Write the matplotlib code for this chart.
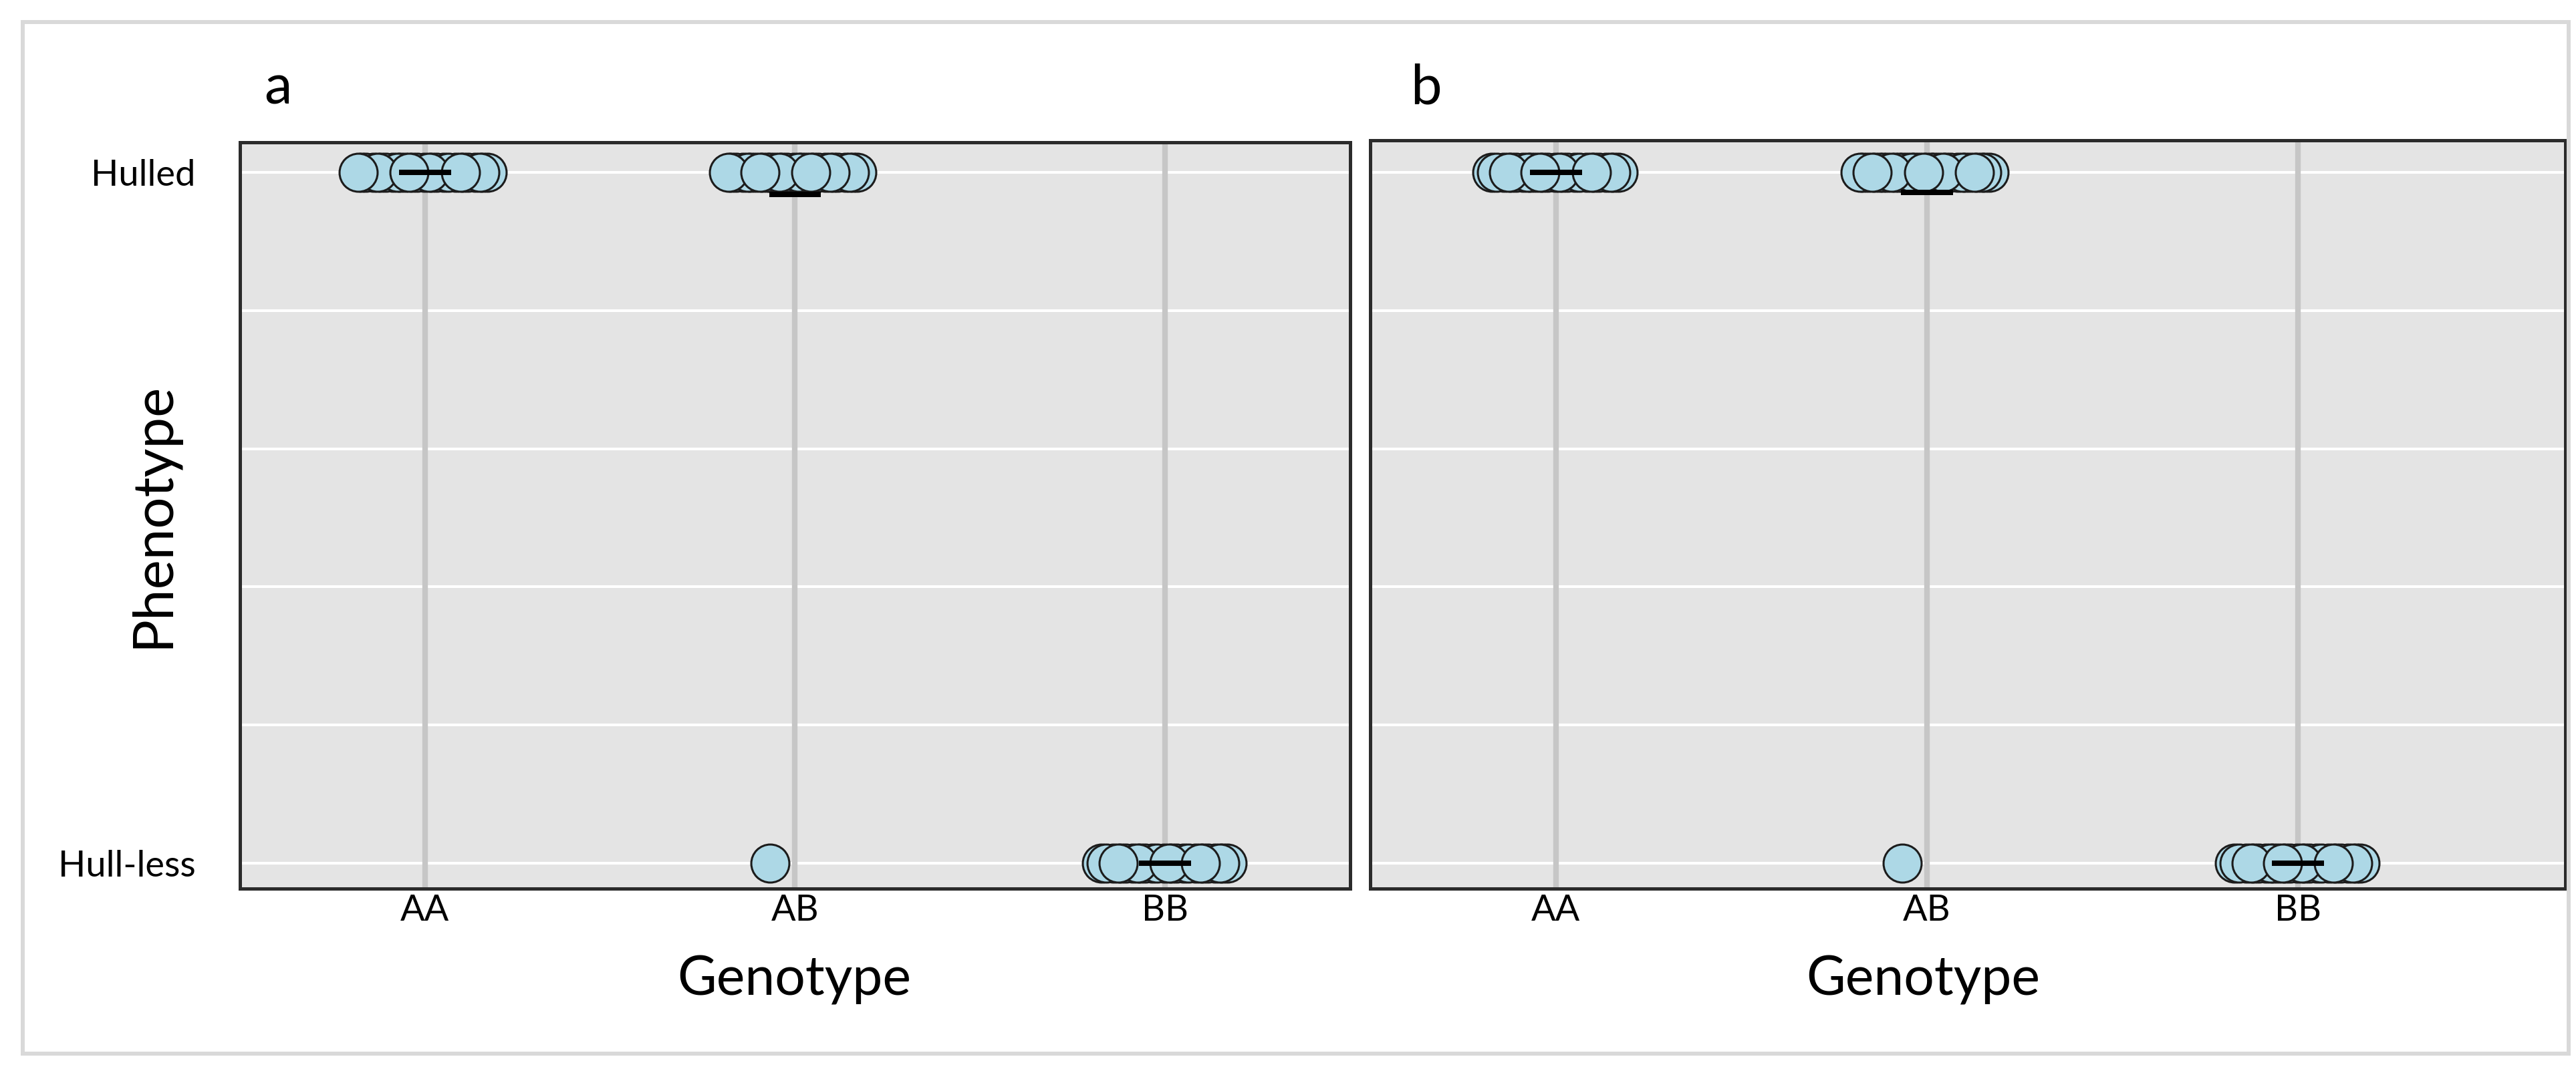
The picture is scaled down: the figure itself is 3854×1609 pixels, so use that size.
import numpy as np
import matplotlib
matplotlib.use("Agg")
import matplotlib.pyplot as plt
from matplotlib.patches import Rectangle

# ---------------- data ----------------
genotypes = ["AA", "AB", "BB"]
phenotype_labels = ["Hull-less", "Hulled"]          # coded 0 and 1
panel_letters = ["a", "b"]

# number of individuals per genotype with each phenotype
panel_a_hulled = [28, 30, 0]
panel_a_hullless = [0, 1, 26]
panel_b_hulled = [27, 33, 0]
panel_b_hullless = [0, 1, 27]

# ---------------- style ----------------
W, H, DPI = 3855, 1609, 100
FONT = ["Lato", "DejaVu Sans"]
plt.rcParams["font.family"] = FONT

fill_col = "#add8e6"
edge_col = "#1c1c1c"
panel_bg = "#e4e4e4"
vgrid_col = "#c6c6c6"
JIT = 0.18          # horizontal jitter half-width (category units)
PHI = (np.sqrt(5) - 1) / 2


def jitter(n, phase=0.314):
    k = np.arange(n)
    u = (phase + k * PHI) % 1.0
    return (2 * u - 1) * JIT


fig = plt.figure(figsize=(W / DPI, H / DPI), dpi=DPI)

# outer light-grey frame
fig.patches.append(Rectangle((34 / W, 1 - 1577 / H), (3843 - 34) / W, (1577 - 33) / H,
                             transform=fig.transFigure, fill=False,
                             edgecolor="#d9d9d9", linewidth=4.3, zorder=0))

panels = [
    dict(rect=[359 / W, 1 - 1330 / H, (2020 - 359) / W, (1330 - 213) / H],
         xlim=(0.5, 3.5), ylim=(-0.0368, 1.0435),
         hulled=panel_a_hulled, hullless=panel_a_hullless, ylabels=True,
         letter_x=395 / W, title_x=1188 / W),
    dict(rect=[2050 / W, 1 - 1330 / H, (3838 - 2050) / W, (1330 - 210) / H],
         xlim=(0.5, 3.72), ylim=(-0.0368, 1.0464),
         hulled=panel_b_hulled, hullless=panel_b_hullless, ylabels=False,
         letter_x=2110 / W, title_x=2877 / W),
]

for p, letter in zip(panels, panel_letters):
    ax = fig.add_axes(p["rect"])
    ax.set_facecolor(panel_bg)
    xs = np.arange(1, len(genotypes) + 1)

    # grid
    for yv in np.linspace(0, 1, 6):
        ax.axhline(yv, color="white", lw=2.9, zorder=1)
    for xv in xs:
        ax.axvline(xv, color=vgrid_col, lw=6, zorder=1.5)

    # jittered points
    for xi, nh, nl in zip(xs, p["hulled"], p["hullless"]):
        for val, n in ((1, nh), (0, nl)):
            if n == 0:
                continue
            xo = xi + jitter(n)
            ax.scatter(xo, np.full(n, val), s=41 ** 2, facecolor=fill_col,
                       edgecolor=edge_col, linewidth=2.2, zorder=3)
        # mean line
        m = nh / (nh + nl)
        ax.hlines(m, xi - 0.07, xi + 0.07, color="black", lw=5.8, zorder=4)

    ax.set_xlim(*p["xlim"])
    ax.set_ylim(*p["ylim"])
    ax.set_xticks(xs)
    ax.set_xticklabels(genotypes, fontsize=39)
    ax.set_yticks([0, 1])
    if p["ylabels"]:
        ax.set_yticklabels(phenotype_labels, fontsize=39)
    else:
        ax.set_yticklabels([])
    ax.tick_params(axis="x", length=0, pad=6)
    ax.tick_params(axis="y", length=0, pad=48)
    for sp in ax.spines.values():
        sp.set_color("#2b2b2b")
        sp.set_linewidth(3.6)

    # axis title below each panel
    fig.text(p["title_x"], 1 - 1467 / H, "Genotype", ha="center", va="center",
             fontsize=58)
    # panel letter
    fig.text(p["letter_x"], 1 - 155 / H, letter, ha="left", va="baseline", fontsize=60)

fig.text(229 / W, 1 - 771 / H, "Phenotype", rotation=90, ha="center", va="center",
         fontsize=60)

fig.savefig("out.png", dpi=DPI)
